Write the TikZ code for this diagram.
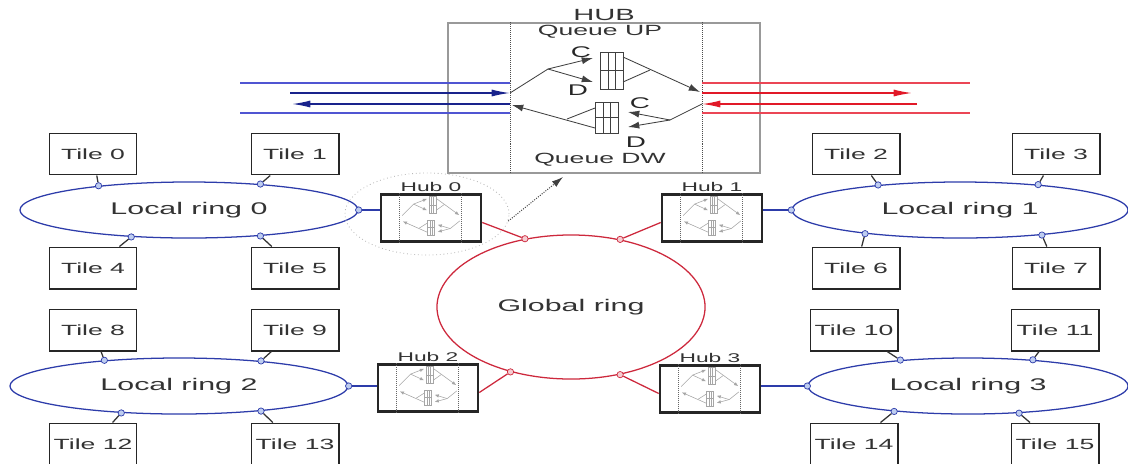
\documentclass[tikz,border=0pt]{standalone}
\usepackage{fontspec}
\setmainfont{Liberation Sans}[FakeStretch=1.8]
\usetikzlibrary{arrows.meta,positioning,calc,shapes.geometric}

\definecolor{ringblue}{RGB}{45,60,170}
\definecolor{dotblue}{RGB}{190,205,240}
\definecolor{linkblue}{RGB}{80,85,210}
\definecolor{busnavy}{RGB}{25,35,140}
\definecolor{ringred}{RGB}{205,40,60}
\definecolor{dotred}{RGB}{245,205,210}
\definecolor{linkred}{RGB}{235,70,85}
\definecolor{busred}{RGB}{225,25,40}

\tikzset{
  tile/.style={draw=black!85, line width=1.4pt, minimum width=2.175cm, minimum height=1.025cm,
    inner sep=0pt, text=black!80, font=\fontsize{10.5}{12}\selectfont},
  localring/.style={ellipse, draw=ringblue, line width=0.9pt, minimum height=1.4cm, inner sep=0pt,
    text=black!80, font=\fontsize{12}{14}\selectfont},
  ringdot/.style={circle, draw=ringblue, fill=dotblue, line width=0.5pt, inner sep=0pt, minimum size=4.5pt},
  reddot/.style={ringdot, draw=ringred, fill=dotred},
  tilelink/.style={draw=black!80, line width=0.9pt},
  hubbox/.style={draw=black!85, line width=1.8pt, minimum width=2.5cm, minimum height=1.175cm, inner sep=0pt},
  hublabel/.style={font=\fontsize{9}{10}\selectfont, text=black!80, inner sep=1pt},
  queuetext/.style={font=\fontsize{10.5}{12}\selectfont, text=black!80, inner sep=0pt},
  cdtext/.style={font=\fontsize{11}{12}\selectfont, text=black!85, inner sep=0pt},
  coretip/.style={-{Latex[length=8pt,width=5pt]}},
  bustip/.style={-{Latex[length=13pt,width=5pt]}},
  pics/hubcore/.style={code={
    % queue up
    \draw (-96,-5) -- (-58,-29);
    \draw[coretip] (-58,-29) -- (-13,-40);
    \draw[coretip] (-58,-29) -- (-13,-16);
    \draw (-6,-46) rectangle (17,-9);
    \draw (2,-46) -- (2,-9) (9,-46) -- (9,-9) (-6,-27.5) -- (17,-27.5);
    \draw[coretip] (17,-41) -- (94,-6);
    \draw (17,-16) -- (44,-28);
    % queue down
    \draw (96,6) -- (64,22);
    \draw[coretip] (64,22) -- (22,14);
    \draw[coretip] (64,22) -- (22,29);
    \draw (-11,4) rectangle (12,35);
    \draw (-3,4) -- (-3,35) (4,4) -- (4,35) (-11,19.5) -- (12,19.5);
    \draw[coretip] (-11,30) -- (-94,7);
    \draw (-11,10) -- (-39,21);
  }}
}

\begin{document}
\begin{tikzpicture}[x=0.025cm, y=-0.025cm]
\useasboundingbox (0,0) rectangle (1128,463);

% detail of one hub
\node[draw=gray!80, line width=0.8pt, minimum width=7.8cm, minimum height=3.75cm,
  label={[font=\fontsize{11.5}{12}\selectfont, text=black!80, inner sep=1pt]above:HUB}] (hub) at (604,98) {};
\draw[densely dotted, black!70] ($(hub.north)+(-94,0)$) -- ($(hub.south)+(-94,0)$)
  ($(hub.north)+(98,0)$) -- ($(hub.south)+(98,0)$);
\node[queuetext] (qup) at (600,32) {Queue UP};
\node[queuetext] (qdw) at (600,160) {Queue DW};
\pic[black!75, line width=0.6pt] at (606,98) {hubcore};
\node[cdtext] (cup) at (581,52) {C};
\node[cdtext] (dup) at (578,90) {D};
\node[cdtext] (cdw) at (640,103) {C};
\node[cdtext] (ddw) at (636,142) {D};

\coordinate (upin) at (510,93);
\coordinate (dwout) at (510,104);
\coordinate (upout) at (702,93);
\coordinate (dwin) at (702,104);
\coordinate (bluein) at (290,93);
\coordinate (blueout) at (292,104);
\coordinate (redout) at (912,93);
\coordinate (redin) at (917,104);
\draw[draw=linkblue, line width=0.9pt] (240,83) -- (510,83) (240,113) -- (510,113);
\draw[busnavy, line width=1pt, bustip] (bluein) -- (upin);
\draw[busnavy, line width=1pt, bustip] (dwout) -- (blueout);
\draw[draw=linkred, line width=0.9pt] (702,83) -- (970,83) (702,113) -- (970,113);
\draw[busred, line width=1pt, bustip] (upout) -- (redout);
\draw[busred, line width=1pt, bustip] (redin) -- (dwin);

% tiles
\foreach \n/\x/\y in {0/93/154, 1/295/154, 2/856/154, 3/1056/154,
                      4/93/268, 5/295/268, 6/856/268, 7/1056/268,
                      8/93/330, 9/295/330, 10/854/330, 11/1055/330,
                      12/93/444, 13/295/444, 14/854/444, 15/1055/444}
  \node[tile] (t\n) at (\x,\y) {Tile \n};

% hubs
\foreach \h/\x/\y/\n in {h0/431/218/0, h1/712/218/1, h2/428/388/2, h3/710/389/3}{
  \node[hubbox, label={[hublabel]above:Hub \n}] (\h) at (\x,\y) {};
  \pic[gray!70, line width=0.4pt, xscale=0.3, yscale=0.48,
    coretip/.style={-{Latex[length=3pt,width=2.5pt]}}] at (\h) {hubcore};
  \draw[densely dotted, black!60] ($(\h.north)+(-32,0)$) -- ($(\h.south)+(-32,0)$)
    ($(\h.north)+(30,0)$) -- ($(\h.south)+(30,0)$);
}

% local rings
\foreach \r/\cx/\cy/\w/\ta/\tb/\tc/\td/\aa/\ab/\ac/\ad/\ah/\hh in {
    0/189/210/8.45/0/1/4/5/165/20/205/340/0/h0.west,
    1/960/210/8.4/2/3/6/7/163/18/194/343/180/h1.east,
    2/179/386/8.45/8/9/12/13/161/17/205/343/0/h2.west,
    3/968/386/8.0/10/11/14/15/159/22/199/332/180/h3.east}{
  \node[localring, minimum width=\w cm] (lr\r) at (\cx,\cy) {Local ring \r};
  \foreach \t/\a in {\ta/\aa, \tb/\ab, \tc/\ac, \td/\ad}{
    \node[ringdot] (d\t) at (lr\r.\a) {};
    \draw[tilelink] (t\t) -- (d\t);
  }
  \node[ringdot] (dh\r) at (lr\r.\ah) {};
  \draw[ringblue, line width=0.9pt] (dh\r) -- (dh\r -| \hh);
}

% global ring
\node[ellipse, draw=ringred, line width=0.9pt, minimum width=6.7cm, minimum height=3.6cm,
  text=black!80, font=\fontsize{12}{14}\selectfont] (gr) at (571,307) {Global ring};
\foreach \a/\h/\s in {124/h0/-5, 54/h1/185, 227/h2/-5, 306/h3/185}{
  \node[reddot] (g\h) at (gr.\a) {};
  \draw[ringred, line width=0.9pt] (g\h) -- (\h.\s);
}

% zoom on hub 0
\node[ellipse, draw=gray!55, dotted, line width=0.6pt, minimum width=4.1cm, minimum height=2.05cm] (zoomring) at (427,214) {};
\coordinate (hubtip) at (563,177);
\draw[densely dotted, black!75, line width=0.7pt, -{Latex[length=8pt,width=5pt]}] (zoomring.-5) -- (hubtip);
\end{tikzpicture}
\end{document}
